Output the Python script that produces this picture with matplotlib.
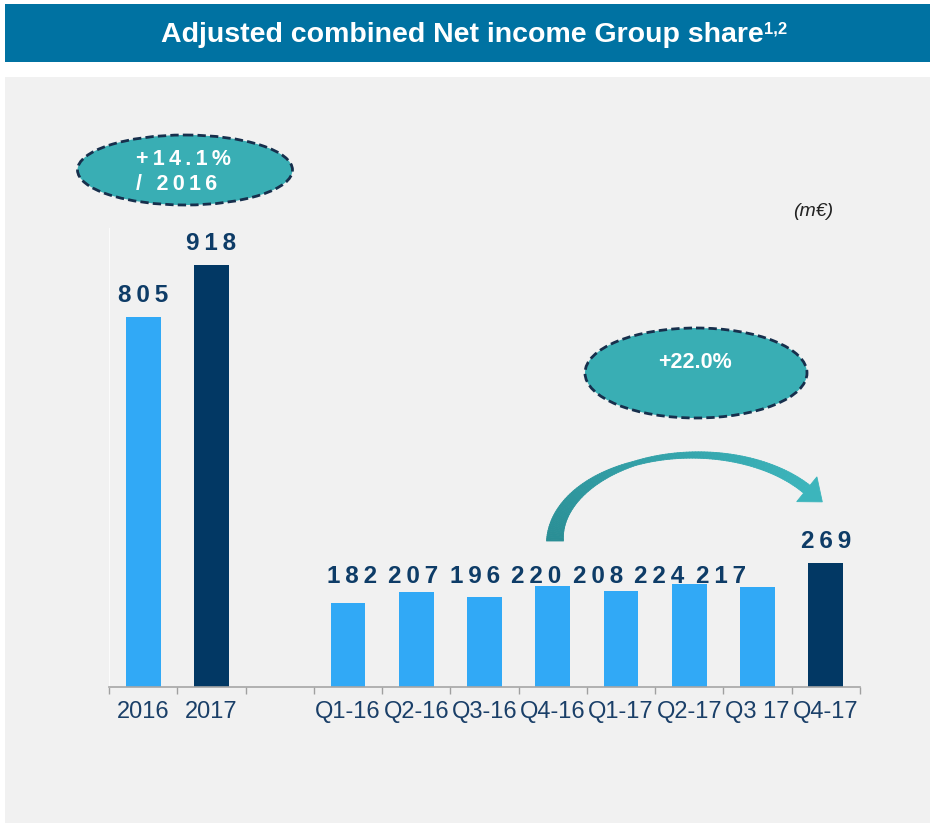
import numpy as np
import matplotlib
matplotlib.use("Agg")
import matplotlib.pyplot as plt
from matplotlib.patches import Rectangle, Ellipse, Polygon
from matplotlib.collections import PolyCollection

plt.rcParams['font.family'] = ['Liberation Sans', 'DejaVu Sans']

# ---------------- data ----------------
annual_labels = ['2016', '2017']
annual_values = [805, 918]
quarter_labels = ['Q1-16', 'Q2-16', 'Q3-16', 'Q4-16', 'Q1-17', 'Q2-17', 'Q3 17', 'Q4-17']
quarter_values = [182, 207, 196, 220, 208, 224, 217, 269]
title = 'Adjusted combined Net income Group share'
title_sup = '1,2'
unit_label = '(m€)'
growth_year = '+14.1%\n/ 2016'
growth_quarter = '+22.0%'

categories = annual_labels + [''] + quarter_labels
values = annual_values + [np.nan] + quarter_values

LIGHT = '#31a9f6'
DARK = '#023864'
NAVY = '#0e3c67'
TEAL = '#39aeb4'

colors = [LIGHT, DARK, LIGHT] + [LIGHT] * 7 + [DARK]

def spaced(s, sp='\u2009'):
    return sp.join(s)

fig = plt.figure(figsize=(9.3, 8.23), dpi=100)

# background
bg = fig.add_axes([0, 0, 1, 1], zorder=0)
bg.set_xlim(0, 930); bg.set_ylim(823, 0); bg.axis('off')
bg.add_patch(Rectangle((5, 77), 925, 746, color='#f1f1f1', lw=0))
bg.add_patch(Rectangle((5, 4), 925, 58, color='#0072a2', lw=0))

# main axes
ax = fig.add_axes([109 / 930, 136 / 823, 751 / 930, 459 / 823], zorder=1)
ax.patch.set_alpha(0)
x = np.arange(len(categories))
ax.bar(x, values, width=0.51, color=colors, zorder=2)
ax.set_xlim(-0.5, len(categories) - 0.5)
ax.set_ylim(0, 999)
ax.set_yticks([])
ax.set_xticks(x)
ax.set_xticklabels(categories, fontsize=17, color='#1a3f68')
ax.set_xticks(np.arange(-0.5, len(categories), 1), minor=True)
ax.tick_params(axis='x', which='major', length=0, pad=10)
ax.tick_params(axis='x', which='minor', length=5, width=1, color='#a0a0a0', direction='out')
for s in ['top', 'right']:
    ax.spines[s].set_visible(False)
ax.spines['left'].set_color('#fbfbfb')
ax.spines['bottom'].set_color('#a6a6a6')
ax.spines['bottom'].set_linewidth(1.2)

# labels for annual bars and last quarter
for xi, v in [(0, annual_values[0]), (1, annual_values[1]), (len(categories) - 1, quarter_values[-1])]:
    ax.annotate(spaced(str(v)), (xi, v), xytext=(0, 11), textcoords='offset points',
                ha='center', va='baseline', fontsize=17.5, fontweight='bold', color=NAVY)
# quarter labels laid out as a line of text
for i, v in enumerate(quarter_values[:-1]):
    ax.text(3.06 + 0.9 * i, 226, spaced(str(v)), ha='center', va='baseline',
            fontsize=17.5, fontweight='bold', color=NAVY)

# overlay
ov = fig.add_axes([0, 0, 1, 1], zorder=3)
ov.set_xlim(0, 930); ov.set_ylim(823, 0); ov.axis('off')
ov.patch.set_alpha(0)

t = ov.text(462, 35, title, ha='center', va='center', color='white', fontsize=20.5, fontweight='bold')
ov.text(833, 211, unit_label, ha='right', va='center', fontsize=14, style='italic', color='#222222')

ov.add_patch(Ellipse((185, 170), 215, 70, fc=TEAL, ec='#172f4c', lw=2, ls=(0, (3, 1.5))))
ov.text(136, 172, '\n'.join(spaced(l) for l in growth_year.split('\n')), ha='left', va='center',
        multialignment='left', color='white', fontsize=15.5, fontweight='bold', linespacing=1.3)

ov.add_patch(Ellipse((696, 373), 222, 90, fc=TEAL, ec='#172f4c', lw=2, ls=(0, (3, 1.5))))
ov.text(695, 362, growth_quarter, ha='center', va='center', color='white', fontsize=15.5, fontweight='bold')

# curved tapered arrow
cx, cy, a, b = 695, 541, 140, 86
th = np.linspace(np.pi, np.radians(37), 120)
px = cx + a * np.cos(th)
py = cy - b * np.sin(th)
T = np.stack([a * np.sin(th), b * np.cos(th)], axis=1)
T /= np.linalg.norm(T, axis=1)[:, None]
N = np.stack([-T[:, 1], T[:, 0]], axis=1)
tt = np.linspace(0, 1, len(th))
w = np.interp(tt, [0, 0.45, 1], [17, 4.5, 10])
P = np.stack([px, py], axis=1)
L = P + N * w[:, None] / 2
R = P - N * w[:, None] / 2
c0 = np.array(matplotlib.colors.to_rgb('#2a8e95'))
c1 = np.array(matplotlib.colors.to_rgb('#3cb5bc'))
quads, qcols = [], []
for i in range(len(th) - 1):
    quads.append([L[i], L[i + 1], R[i + 1], R[i]])
    f = tt[i]
    qcols.append(c0 * (1 - f) + c1 * f)
ov.add_collection(PolyCollection(quads, facecolors=qcols, edgecolors=qcols, linewidths=0.6))
Pe, Te, Ne = P[-1], T[-1], N[-1]
head = [Pe + Ne * 16, Pe + Te * 20, Pe - Ne * 16]
ov.add_patch(Polygon(head, closed=True, fc=c1, ec=c1, lw=0.6))

# superscript on title
fig.canvas.draw()
bb = t.get_window_extent()
inv = ov.transData.inverted()
(x1, y1) = inv.transform((bb.x1, bb.y1))
ov.text(x1 + 1, y1 - 1, title_sup, ha='left', va='top', color='white', fontsize=12, fontweight='bold')

fig.savefig('out.png', dpi=100)
